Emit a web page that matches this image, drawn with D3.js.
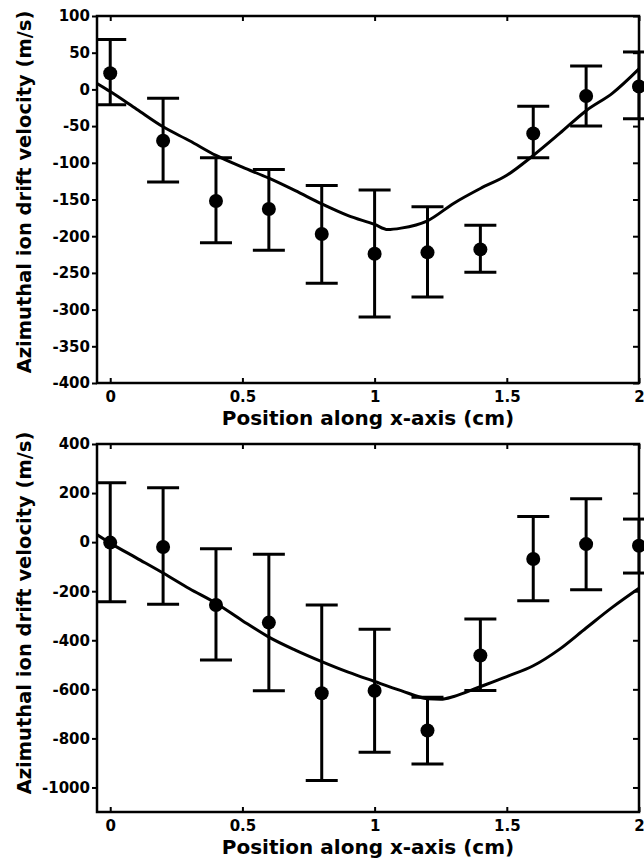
<!DOCTYPE html>
<html>
<head>
<meta charset="utf-8">
<script src="https://cdn.jsdelivr.net/npm/d3@7"></script>
<style>
  html, body { margin: 0; padding: 0; background: #fff; }
  svg { display: block; }
  .tick text { font-family: "DejaVu Sans", sans-serif; font-weight: bold; font-size: 15px; fill: #000; }
  .tick line { stroke: #000; stroke-width: 2; }
  .label { font-family: "DejaVu Sans", sans-serif; font-weight: bold; font-size: 20px; fill: #000; }
</style>
</head>
<body>
<div id="chart"></div>
<script>
// sample positions along x (cm)
const positions = [0, 0.2, 0.4, 0.6, 0.8, 1.0, 1.2, 1.4, 1.6, 1.8, 2.0];
const xTicks = [0, 0.5, 1, 1.5, 2];
const xTickLabels = ["0", "0.5", "1", "1.5", "2"];

// upper panel
const topMean = [22, -70, -152, -163, -197, -224, -222, -218, -60, -9, 4];
const topLow  = [-21, -126, -209, -219, -264, -310, -283, -249, -93, -50, -40];
const topHigh = [68, -12, -93, -109, -131, -137, -160, -185, -23, 32, 51];
const topCurveX = [-0.05, 0, 0.1, 0.2, 0.3, 0.4, 0.5, 0.6, 0.7, 0.8, 0.9, 1.0, 1.05, 1.1, 1.2, 1.3, 1.4, 1.5, 1.6, 1.7, 1.8, 1.9, 2.0];
const topCurveY = [8, -3, -27, -51, -70, -90, -106, -121, -138, -156, -172, -184, -191, -189, -179, -155, -135, -117, -90, -60, -29, -5, 28];
const topYTicks = [100, 50, 0, -50, -100, -150, -200, -250, -300, -350, -400];

// lower panel
const botMean = [-2, -20, -256, -328, -616, -606, -768, -462, -69, -8, -15];
const botLow  = [-243, -253, -480, -606, -972, -856, -904, -605, -239, -194, -126];
const botHigh = [242, 222, -27, -49, -256, -355, -632, -313, 104, 177, 94];
const botCurveX = [-0.05, 0, 0.1, 0.2, 0.3, 0.4, 0.5, 0.6, 0.7, 0.8, 0.9, 1.0, 1.1, 1.2, 1.25, 1.3, 1.4, 1.5, 1.6, 1.7, 1.8, 1.9, 2.0];
const botCurveY = [30, -4, -65, -126, -190, -249, -320, -387, -440, -487, -530, -568, -605, -638, -640, -629, -589, -548, -504, -436, -350, -265, -188];
const botYTicks = [400, 200, 0, -200, -400, -600, -800, -1000];

const xTitle = "Position along x-axis (cm)";
const yTitle = "Azimuthal ion drift velocity (m/s)";

const width = 644, height = 860;
const svg = d3.select("#chart").append("svg")
    .attr("width", width)
    .attr("height", height);

// data is cut at the left axis only (the right side spills over the frame)
svg.append("defs").append("clipPath")
    .attr("id", "leftclip")
    .append("rect")
        .attr("x", 97).attr("y", 0)
        .attr("width", width).attr("height", height);

function drawPanel(cfg) {
    const left = 97, right = 639;
    const x = d3.scaleLinear().domain([-0.05, 2]).range([left, right]);
    const y = d3.scaleLinear().domain(cfg.yDomain).range([cfg.top, cfg.bottom]);

    const g = svg.append("g");

    // axes
    g.append("g")
        .attr("transform", `translate(${left},0)`)
        .call(d3.axisLeft(y).tickValues(cfg.yTicks).tickSize(5).tickPadding(2).tickFormat(d => String(d)))
        .call(a => a.select(".domain").remove());
    g.append("g")
        .attr("transform", `translate(${right},0)`)
        .call(d3.axisRight(y).tickValues(cfg.yTicks).tickSize(-6).tickFormat(""))
        .call(a => a.select(".domain").remove());
    g.append("g")
        .attr("transform", `translate(0,${cfg.bottom})`)
        .call(d3.axisBottom(x).tickValues(xTicks).tickSize(-5).tickPadding(8).tickFormat((d, i) => xTickLabels[i]))
        .call(a => a.select(".domain").remove());
    g.append("g")
        .attr("transform", `translate(0,${cfg.top})`)
        .call(d3.axisTop(x).tickValues(xTicks).tickSize(-5).tickFormat(""))
        .call(a => a.select(".domain").remove());

    g.append("rect")
        .attr("x", left).attr("y", cfg.top)
        .attr("width", right - left).attr("height", cfg.bottom - cfg.top)
        .attr("fill", "none").attr("stroke", "#000").attr("stroke-width", 2.5);

    const plot = g.append("g").attr("clip-path", "url(#leftclip)");

    // model curve
    const curve = cfg.curveX.map((v, i) => [v, cfg.curveY[i]]);
    plot.append("path")
        .datum(curve)
        .attr("fill", "none")
        .attr("stroke", "#000")
        .attr("stroke-width", 3)
        .attr("stroke-linejoin", "round")
        .attr("d", d3.line().x(d => x(d[0])).y(d => y(d[1])).curve(d3.curveMonotoneX));

    // error bars
    const pts = positions.map((p, i) => ({ p: p, m: cfg.mean[i], lo: cfg.low[i], hi: cfg.high[i] }));
    const bars = plot.selectAll("g.err").data(pts).enter().append("g").attr("class", "err");
    bars.append("line")
        .attr("x1", d => x(d.p)).attr("x2", d => x(d.p))
        .attr("y1", d => y(d.lo)).attr("y2", d => y(d.hi))
        .attr("stroke", "#000").attr("stroke-width", 3);
    bars.append("line")
        .attr("x1", d => x(d.p) - 16).attr("x2", d => x(d.p) + 16)
        .attr("y1", d => y(d.hi)).attr("y2", d => y(d.hi))
        .attr("stroke", "#000").attr("stroke-width", 3);
    bars.append("line")
        .attr("x1", d => x(d.p) - 16).attr("x2", d => x(d.p) + 16)
        .attr("y1", d => y(d.lo)).attr("y2", d => y(d.lo))
        .attr("stroke", "#000").attr("stroke-width", 3);
    bars.append("circle")
        .attr("cx", d => x(d.p)).attr("cy", d => y(d.m))
        .attr("r", 7).attr("fill", "#000");

    // titles
    g.append("text")
        .attr("class", "label")
        .attr("x", (left + right) / 2)
        .attr("y", cfg.xTitleY)
        .attr("text-anchor", "middle")
        .text(xTitle);
    g.append("text")
        .attr("class", "label")
        .attr("transform", `translate(31,${cfg.yTitleY}) rotate(-90)`)
        .attr("text-anchor", "middle")
        .style("font-size", "19.5px")
        .text(yTitle);
}

drawPanel({
    top: 16, bottom: 383, yDomain: [100, -400], yTicks: topYTicks,
    mean: topMean, low: topLow, high: topHigh,
    curveX: topCurveX, curveY: topCurveY,
    xTitleY: 425, yTitleY: 192
});
drawPanel({
    top: 444, bottom: 812, yDomain: [400, -1100], yTicks: botYTicks,
    mean: botMean, low: botLow, high: botHigh,
    curveX: botCurveX, curveY: botCurveY,
    xTitleY: 854, yTitleY: 613
});
</script>
</body>
</html>
